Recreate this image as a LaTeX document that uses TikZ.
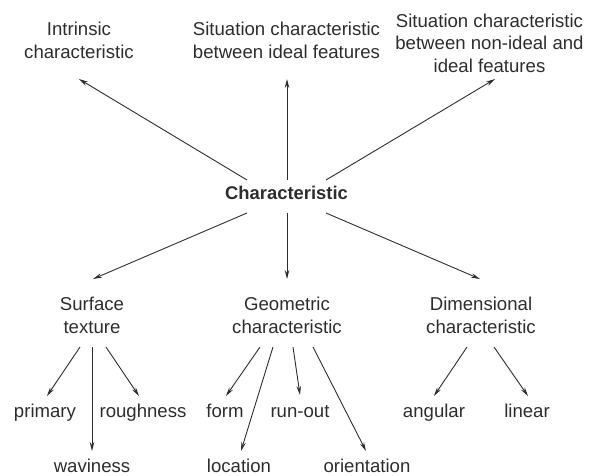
\documentclass[tikz,border=0pt]{standalone}
\usepackage{fontspec}
\setmainfont{Liberation Sans}
\usetikzlibrary{arrows.meta}
\definecolor{ink}{RGB}{45,45,45}
\begin{document}
\begin{tikzpicture}[x=1pt,y=-1pt,
  lbl/.style={anchor=base,inner sep=0pt,align=center,text=ink,font=\fontsize{18.6}{22.5}\selectfont},
  arr/.style={draw=ink,line width=0.9pt,-{Stealth[length=9pt,width=4.5pt]}}]
\useasboundingbox (0,0) rectangle (598,475);
% nodes (base anchor = baseline of the last line)
\node[lbl,font=\fontsize{18.4}{22.5}\selectfont\bfseries] (char) at (286.5,199) {Characteristic};
\node[lbl] (intr) at (79,58) {Intrinsic\\characteristic};
\node[lbl] (sit1) at (286.5,58) {Situation characteristic\\between ideal features};
\node[lbl] (sit2) at (489.5,72) {Situation characteristic\\between non-ideal and\\ideal features};
\node[lbl] (st) at (92,333) {Surface\\texture};
\node[lbl] (geo) at (287,333) {Geometric\\characteristic};
\node[lbl] (dim) at (481,333) {Dimensional\\characteristic};
\node[lbl] (prim) at (45,417) {primary};
\node[lbl] (rough) at (143,417) {roughness};
\node[lbl] (wav) at (92,472) {waviness};
\node[lbl] (form) at (225,417) {form};
\node[lbl] (loc) at (239,472) {location};
\node[lbl] (run) at (300,417) {run-out};
\node[lbl] (ori) at (367,472) {orientation};
\node[lbl] (ang) at (434,417) {angular};
\node[lbl] (lin) at (527,417) {linear};
% arrows
\draw[arr] ([shift={(-39.5,-19)}]char.base) -- ([shift={(0,21)}]intr.base);
\draw[arr] ([shift={(0.5,-19)}]char.base) -- ([shift={(0.5,21)}]sit1.base);
\draw[arr] ([shift={(39.5,-19)}]char.base) -- ([shift={(5.5,7)}]sit2.base);
\draw[arr] ([shift={(-39.5,14)}]char.base) -- ([shift={(1,-54)}]st.base);
\draw[arr] ([shift={(0.5,14)}]char.base) -- ([shift={(0,-54)}]geo.base);
\draw[arr] ([shift={(39.5,14)}]char.base) -- ([shift={(-1,-54)}]dim.base);
\draw[arr] ([shift={(-12,14)}]st.base) -- ([shift={(2,-21)}]prim.base);
\draw[arr] ([shift={(0,14)}]st.base) -- ([shift={(0,-21)}]wav.base);
\draw[arr] ([shift={(14,14)}]st.base) -- ([shift={(-4,-21)}]rough.base);
\draw[arr] ([shift={(-27,14)}]geo.base) -- ([shift={(1,-21)}]form.base);
\draw[arr] ([shift={(-14,14)}]geo.base) -- ([shift={(2,-21)}]loc.base);
\draw[arr] ([shift={(6,14)}]geo.base) -- ([shift={(0,-22)}]run.base);
\draw[arr] ([shift={(26,14)}]geo.base) -- ([shift={(-1,-21)}]ori.base);
\draw[arr] ([shift={(-14,14)}]dim.base) -- ([shift={(0,-21)}]ang.base);
\draw[arr] ([shift={(13,14)}]dim.base) -- ([shift={(1,-21)}]lin.base);
\end{tikzpicture}
\end{document}
